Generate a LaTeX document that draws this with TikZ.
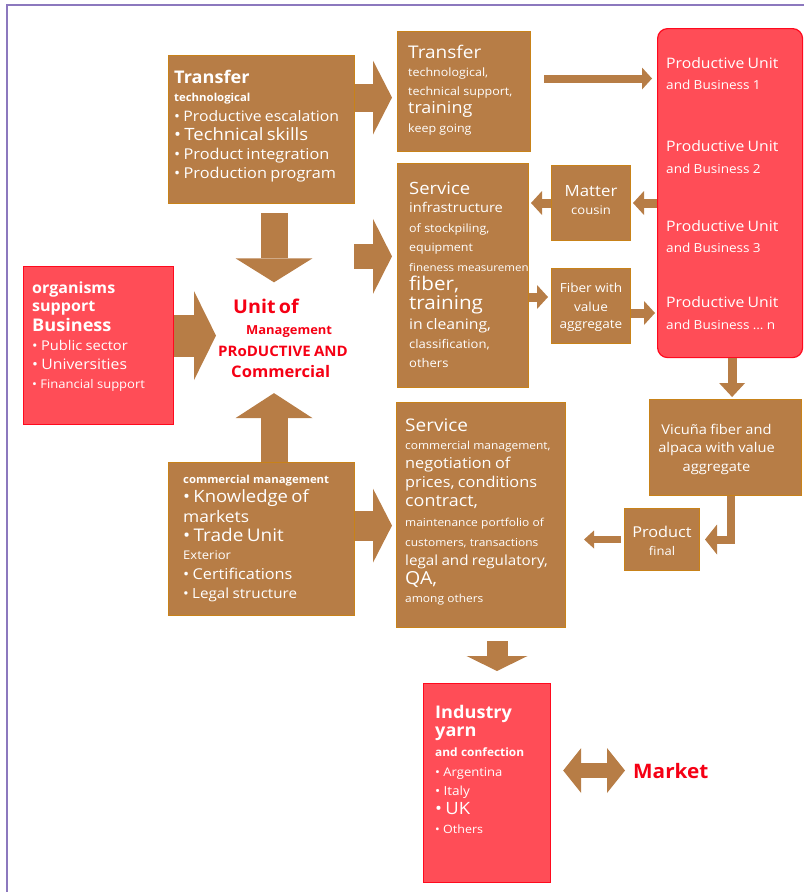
\documentclass[tikz,border=0pt]{standalone}
\usepackage{fontspec}
\setmainfont{Open Sans}[FakeStretch=1.09, BoldFeatures={FakeStretch=1.04}]
\usetikzlibrary{arrows.meta,calc}

\definecolor{boxfill}{RGB}{183,125,70}
\definecolor{boxline}{RGB}{200,130,25}
\definecolor{unitfill}{RGB}{255,77,87}
\definecolor{unitline}{RGB}{255,10,30}
\definecolor{unittext}{RGB}{245,0,20}
\definecolor{framecol}{RGB}{140,120,190}

% one line of a box text: size, distance to previous baseline, text
\newcommand{\boxline}[3]{{\fontsize{#1}{#2}\selectfont #3\par}}

\begin{document}
\begin{tikzpicture}[
  x=1bp, y=-1bp,
  brownbox/.style = {draw=boxline, line width=1bp, fill=boxfill, anchor=north west, inner sep=0pt},
  redbox/.style   = {draw=unitline, line width=1.2bp, fill=unitfill, anchor=north west, inner sep=0pt},
  txt/.style      = {anchor=base west, inner sep=0pt, text width=200bp, align=left, text=white},
  ctxt/.style     = {anchor=base, inner sep=0pt, text width=150bp, align=center, text=white},
  fat/.style n args={3}{draw=boxfill, line width=#1, -{Triangle[width=#2,length=#3,line width=0pt]}}
]
\useasboundingbox (0,0) rectangle (804,892);

% ---- frame ----
\draw[framecol, line width=2bp] (7,892) -- (7,5) -- (804,5);

% ---- boxes ----
\node[brownbox, minimum width=186bp, minimum height=148bp] (tt) at (168,55) {};
\node[brownbox, minimum width=133bp, minimum height=120bp] (tr) at (397,31) {};
\node[redbox, rounded corners=10bp, minimum width=145bp, minimum height=329bp] (pu) at (657,28) {};
\node[brownbox, minimum width=131bp, minimum height=224bp] (sv1) at (397,163) {};
\node[brownbox, minimum width=79bp, minimum height=75bp] (mat) at (551,165) {};
\node[brownbox, minimum width=79bp, minimum height=75bp] (fib) at (551,268) {};
\node[redbox, minimum width=150bp, minimum height=158bp] (org) at (23,266) {};
\node[brownbox, minimum width=186bp, minimum height=153bp] (com) at (168,462) {};
\node[brownbox, minimum width=169bp, minimum height=225bp] (sv2) at (396,402) {};
\node[brownbox, minimum width=152bp, minimum height=96bp] (vic) at (649,399) {};
\node[brownbox, minimum width=75bp, minimum height=62bp] (prod) at (624,508) {};
\node[redbox, minimum width=127bp, minimum height=199bp] (ind) at (423,683) {};

% ---- texts ----
\node[txt] (tt-text) at ([xshift=6bp,yshift=-28bp]tt.north west) {%
  \boxline{17.5}{20}{\bfseries Transfer}
  \boxline{11}{19}{\bfseries technological}
  \boxline{14.5}{20}{• Productive escalation}
  \boxline{17}{19}{• Technical skills}
  \boxline{15}{19}{• Product integration}
  \boxline{15}{19}{• Production program}};

\node[txt] (tr-text) at ([xshift=11bp,yshift=-27bp]tr.north west) {%
  \boxline{17.5}{20}{Transfer}
  \boxline{11.5}{19}{technological,}
  \boxline{11.5}{19}{technical support,}
  \boxline{16.5}{18}{training}
  \boxline{11.5}{19}{keep going}};

\node[txt] (sv1-text) at ([xshift=12bp,yshift=-31bp]sv1.north west) {%
  \boxline{17}{20}{Service}
  \boxline{13.5}{19}{infrastructure}
  \boxline{11.5}{20}{of stockpiling,}
  \boxline{11.5}{19}{equipment}
  \boxline{10.6}{20}{fineness measuremen}
  \boxline{19}{19}{fiber,}
  \boxline{19}{19}{training}
  \boxline{14.5}{20}{in cleaning,}
  \boxline{12}{19}{classification,}
  \boxline{12}{19}{others}};

\node[ctxt] (mat-text) at ([yshift=-31bp]mat.north) {%
  \boxline{15.5}{18}{Matter}
  \boxline{12}{19}{cousin}};

\node[ctxt] (fib-text) at ([yshift=-24bp]fib.north) {%
  \boxline{12.5}{15}{Fiber with}
  \boxline{12.5}{20}{value}
  \boxline{12.5}{17}{aggregate}};

\node[txt] (pu-text) at ([xshift=9bp,yshift=-40bp]pu.north west) {%
  \boxline{14.5}{17}{Productive Unit}
  \boxline{12.5}{22}{and Business 1}
  \boxline{14.5}{62}{Productive Unit}
  \boxline{12.5}{22}{and Business 2}
  \boxline{14.5}{58}{Productive Unit}
  \boxline{12.5}{21}{and Business 3}
  \boxline{14.5}{55}{Productive Unit}
  \boxline{12.5}{22}{and Business \dots\ n}};

\node[txt] (org-text) at ([xshift=9bp,yshift=-27bp]org.north west) {%
  \boxline{15.5}{18}{\bfseries organisms}
  \boxline{15.5}{19}{\bfseries support}
  \boxline{17.5}{20}{\bfseries Business}
  \boxline{13.5}{19}{• Public sector}
  \boxline{14.5}{19}{• Universities}
  \boxline{12}{19}{• Financial support}};

\node[txt, text=unittext, text width=136bp, font=\bfseries] (unit) at (218,313) {%
  \boxline{19}{20}{\hspace*{15bp}Unit of}
  \boxline{12.5}{22}{\hspace*{28bp}Management}
  \boxline{14.5}{22}{PRoDUCTIVE AND}
  \boxline{16}{21}{\hspace*{13bp}Commercial}};

\node[txt] (com-text) at ([xshift=15bp,yshift=-21bp]com.north west) {%
  \boxline{11}{13}{\bfseries commercial management}
  \boxline{17}{20}{• Knowledge of}
  \boxline{16}{20}{markets}
  \boxline{17.5}{19}{• Trade Unit}
  \boxline{12}{18}{Exterior}
  \boxline{15}{20}{• Certifications}
  \boxline{14}{19}{• Legal structure}};

\node[txt] (sv2-text) at ([xshift=9bp,yshift=-29bp]sv2.north west) {%
  \boxline{17.5}{20}{Service}
  \boxline{11}{19}{commercial management,}
  \boxline{15}{19}{negotiation of}
  \boxline{15}{19}{prices, conditions}
  \boxline{16.5}{19}{contract,}
  \boxline{11}{20}{maintenance portfolio of}
  \boxline{11}{20}{customers, transactions}
  \boxline{14}{19}{legal and regulatory,}
  \boxline{18}{19}{QA,}
  \boxline{11}{18}{among others}};

\node[ctxt] (vic-text) at ([xshift=-9bp,yshift=-35bp]vic.north) {%
  \boxline{13.5}{16}{Vicuña fiber and}
  \boxline{13.5}{19}{alpaca with value}
  \boxline{13.5}{19}{aggregate}};

\node[ctxt] (prod-text) at ([yshift=-29bp]prod.north) {%
  \boxline{15}{18}{Product}
  \boxline{12}{19}{final}};

\node[txt] (ind-text) at ([xshift=12bp,yshift=-35bp]ind.north west) {%
  \boxline{17.5}{20}{\bfseries Industry}
  \boxline{17.5}{19}{\bfseries yarn}
  \boxline{11.5}{20}{\bfseries and confection}
  \boxline{12}{20}{• Argentina}
  \boxline{12.5}{19}{• Italy}
  \boxline{17}{19}{• UK}
  \boxline{11.5}{19}{• Others}};

\node[anchor=base west, inner sep=0pt, text=unittext, font=\fontsize{20}{24}\selectfont\bfseries] (market) at (633,778) {Market};

% ---- arrow positions ----
\coordinate (a-tr)  at ($(tr.north west)!0.55!(tr.south west)$);
\coordinate (a-dn)  at ([xshift=12.5bp]tt.south);
\coordinate (a-up)  at ([xshift=12.5bp]com.north);
\coordinate (a-org) at ([yshift=10bp]org.east);
\coordinate (a-sv1) at ($(sv1.north west)!0.415!(sv1.south west)$);
\coordinate (a-sv2) at ($(sv2.north west)!0.547!(sv2.south west)$);
\coordinate (a-pu)  at ([xshift=13bp,yshift=13bp]tr.east);
\coordinate (a-fib) at ([yshift=9bp]fib.west);
\coordinate (a-ind) at ([xshift=16bp]sv2.south);

% ---- big arrows ----
\draw[fat={28bp}{74bp}{19bp}] (tt.east |- a-tr) -- ([xshift=-5bp]a-tr);
\draw[fat={27bp}{77bp}{24bp}] ([yshift=-9bp]a-dn) -- ([yshift=16bp]a-dn |- unit.north);
\draw[fat={27bp}{77bp}{25bp}] (a-up) -- ([yshift=-15bp]a-up |- unit.south);
\draw[fat={42bp}{89bp}{22bp}] (a-org) -- ([xshift=-2bp]a-org -| unit.west);
\draw[fat={25bp}{75bp}{19bp}] (unit.east |- a-sv1) -- ([xshift=-5bp]a-sv1);
\draw[fat={30bp}{74bp}{19bp}] (com.east |- a-sv2) -- ([xshift=-4bp]a-sv2);
\draw[fat={21bp}{61bp}{15bp}] ([yshift=-13bp]a-ind) -- ([yshift=12bp]a-ind |- ind.north);
\draw[draw=boxfill, line width=15bp, {Triangle[width=45bp,length=18bp,line width=0pt]}-{Triangle[width=45bp,length=18bp,line width=0pt]}]
  ([xshift=12bp]ind.east |- market.west) -- ([xshift=-8bp]market.west);

% ---- small arrows ----
\draw[fat={8bp}{22bp}{10bp}] (a-pu) -- ([xshift=-5bp]a-pu -| pu.west);
\draw[fat={9bp}{24bp}{11bp}] (pu.west |- mat.east) -- ([xshift=2bp]mat.east);
\draw[fat={9bp}{24bp}{11bp}] (mat.west) -- ([xshift=2bp]mat.west -| sv1.east);
\draw[fat={9bp}{24bp}{11bp}] (sv1.east |- a-fib) -- ([xshift=-3bp]a-fib);
\draw[fat={9bp}{24bp}{11bp}] ([yshift=-7bp]fib.east) -- ([xshift=-2bp,yshift=-7bp]fib.east -| pu.west);
\draw[fat={9bp}{26bp}{14bp}] ([xshift=2bp]pu.south) -- ([xshift=2bp,yshift=2bp]pu.south |- vic.north);
\draw[fat={8bp}{30bp}{12bp}] ([xshift=5.5bp]vic.south) |- ([xshift=5bp]prod.east);
\draw[fat={7bp}{18bp}{10bp}] ([xshift=-3bp]prod.west) -- ([xshift=18bp]prod.west -| sv2.east);

\end{tikzpicture}
\end{document}
